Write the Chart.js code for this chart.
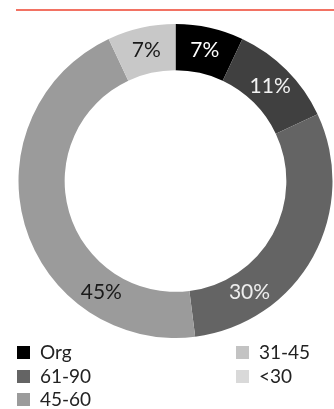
<!DOCTYPE html>
<html>
<head>
<meta charset="utf-8">
<script src="https://cdn.jsdelivr.net/npm/chart.js@4.4.1/dist/chart.umd.min.js"></script>
<style>
  html, body { margin: 0; padding: 0; background: #fff; }
  #wrap { position: relative; width: 334px; height: 409px; }
  #rule { position: absolute; left: 16px; right: 0; top: 9px; height: 0; border-top: 2px solid #f27263; }
  canvas { position: absolute; left: 0; top: 0; }
</style>
</head>
<body>
<div id="wrap">
  <canvas id="ageChart" width="334" height="409"></canvas>
  <div id="rule"></div>
</div>
<script>
// share of holdings by age band
const ageLabels = ['Org', '61-90', '45-60', '31-45', '<30'];
const ageShares = [7, 11, 30, 45, 7];

const sliceColors = ['#000000', '#404040', '#646464', '#9b9b9b', '#c8c8c8'];
const legendColors = ['#000000', '#646464', '#9b9b9b', '#c3c3c3', '#d9d9d9'];
const labelColors = ['#ffffff', '#f2f2f2', '#eeeeee', '#1a1a1a', '#1a1a1a'];
// where along each slice the percentage sits (0 = start, 1 = end)
const labelAlong = [0.5, 0.5, 0.756, 0.252, 0.5];

const FONT = '"Lato", "Open Sans", sans-serif';

const sliceLabels = {
    id: 'sliceLabels',
    afterDatasetsDraw(chart) {
        const ctx = chart.ctx;
        const meta = chart.getDatasetMeta(0);
        ctx.save();
        ctx.font = '400 21px ' + FONT;
        ctx.textAlign = 'center';
        ctx.textBaseline = 'middle';
        meta.data.forEach((arc, i) => {
            const p = arc.getProps(['x', 'y', 'startAngle', 'endAngle', 'innerRadius', 'outerRadius'], true);
            const a = p.startAngle + (p.endAngle - p.startAngle) * labelAlong[i];
            const r = (p.innerRadius + p.outerRadius) / 2;
            ctx.fillStyle = labelColors[i];
            ctx.fillText(ageShares[i] + '%', p.x + Math.cos(a) * r, p.y + Math.sin(a) * r);
        });
        ctx.restore();
    }
};

// two-column legend under the ring
const columnLegend = {
    id: 'columnLegend',
    afterDraw(chart) {
        const ctx = chart.ctx;
        const cols = [17, 236];
        const rows = [353, 377, 400];
        const perCol = 3;
        ctx.save();
        ctx.font = '400 19px ' + FONT;
        ctx.textBaseline = 'middle';
        ageLabels.forEach((label, i) => {
            const x = cols[Math.floor(i / perCol)];
            const y = rows[i % perCol];
            ctx.fillStyle = legendColors[i];
            ctx.fillRect(x, y - 7, 13, 13);
            ctx.fillStyle = '#222222';
            ctx.fillText(label, x + 23, y);
        });
        ctx.restore();
    }
};

new Chart(document.getElementById('ageChart'), {
    type: 'doughnut',
    data: {
        labels: ageLabels,
        datasets: [{
            data: ageShares,
            backgroundColor: sliceColors,
            borderWidth: 0
        }]
    },
    options: {
        responsive: false,
        animation: false,
        cutout: '70.6%',
        layout: { padding: { left: 18, right: 1, top: 24, bottom: 71 } },
        plugins: {
            legend: { display: false },
            tooltip: { enabled: false }
        }
    },
    plugins: [sliceLabels, columnLegend]
});
</script>
</body>
</html>
